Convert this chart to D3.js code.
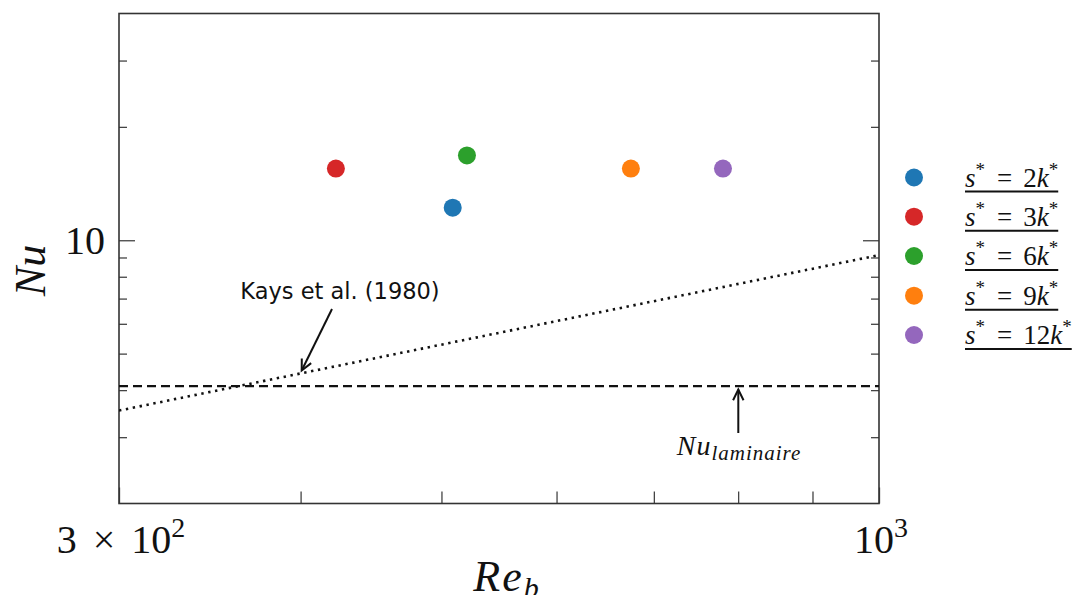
<!DOCTYPE html>
<html><head><meta charset="utf-8">
<script src="https://cdn.jsdelivr.net/npm/d3@7"></script>
<style>body{margin:0;background:#fff}</style>
</head><body>
<svg id="chart" width="1078" height="595"></svg>
<script>
// ---- data ----
const seriesLabels = ["2", "3", "6", "9", "12"];
const seriesColors = ["#1f77b4", "#d62728", "#2ca02c", "#ff7f0e", "#9467bd"];
const reValues = [509, 423, 520.6, 675, 781];
const nuValues = [12.2, 15.5, 16.8, 15.5, 15.5];
const kaysRe = [300, 1000];
const kaysNu = [3.53, 9.13];
const nuLaminaire = 4.1;
const xDomain = [300, 1000];
const yDomain = [2, 40];
const xMajorTicks = [300, 1000];
const xMinorTicks = [400, 500, 600, 700, 800, 900];
const yMajorTicks = [10];
const yMinorTicks = [3, 4, 5, 6, 7, 8, 9, 20, 30];

const svg = d3.select("#chart");
const L = 119, R = 879, T = 13.5, B = 503.5;
const x = d3.scaleLog().domain(xDomain).range([L, R]);
const y = d3.scaleLog().domain(yDomain).range([B, T]);
const serif = "'Liberation Serif','DejaVu Serif',serif";
const sans = "'DejaVu Sans','Liberation Sans',sans-serif";
const axisCol = "#333";

svg.append("defs").append("clipPath").attr("id","clip")
  .append("rect").attr("x",L).attr("y",T).attr("width",R-L).attr("height",B-T);

// ticks (inward) via d3 axes
function tickAxis(gen, tx, ty, vals, size){
  const g = svg.append("g").attr("transform",`translate(${tx},${ty})`)
    .call(gen.tickValues(vals).tickSize(size).tickFormat(""));
  g.select(".domain").remove();
  g.selectAll(".tick line").attr("stroke","#444").attr("stroke-width",1.3);
  return g;
}
tickAxis(d3.axisTop(x), 0, B, xMinorTicks, 12);
tickAxis(d3.axisTop(x), 0, B, xMajorTicks, 16);
tickAxis(d3.axisRight(y), L, 0, yMinorTicks, 8);
tickAxis(d3.axisRight(y), L, 0, yMajorTicks, 16);
tickAxis(d3.axisLeft(y), R, 0, yMinorTicks, 8);
tickAxis(d3.axisLeft(y), R, 0, yMajorTicks, 16);

// frame
svg.append("rect").attr("x",L).attr("y",T).attr("width",R-L).attr("height",B-T)
  .attr("fill","none").attr("stroke",axisCol).attr("stroke-width",1.6);

// tick labels
const lab1 = svg.append("text").attr("x", x(xMajorTicks[0])+2).attr("y",553)
  .attr("text-anchor","middle").attr("font-family",serif).attr("font-size",40).attr("fill","#111");
lab1.append("tspan").text("3");
lab1.append("tspan").attr("dx",16).text("×");
lab1.append("tspan").attr("dx",16).text("10");
lab1.append("tspan").attr("dy",-16).attr("font-size",28).text("2");
const lab2 = svg.append("text").attr("x", x(xMajorTicks[1])+2).attr("y",553)
  .attr("text-anchor","middle").attr("font-family",serif).attr("font-size",40).attr("fill","#111");
lab2.append("tspan").text("10");
lab2.append("tspan").attr("dy",-16).attr("font-size",28).text("3");
svg.append("text").attr("x",L-14).attr("y",y(10)+14).attr("text-anchor","end")
  .attr("font-family",serif).attr("font-size",40).attr("fill","#111").text("10");

// axis labels
svg.append("text").attr("transform",`translate(45,${(T+B)/2+12}) rotate(-90)`)
  .attr("text-anchor","middle").attr("font-family",serif).attr("font-style","italic")
  .attr("font-size",44).attr("fill","#111").text("Nu");
const xl = svg.append("text").attr("x",(L+R)/2+8).attr("y",591).attr("text-anchor","middle")
  .attr("font-family",serif).attr("font-style","italic").attr("font-size",44)
  .attr("letter-spacing",2).attr("fill","#111");
xl.append("tspan").text("Re");
xl.append("tspan").attr("dy",7).attr("font-size",30).text("b");

const plot = svg.append("g").attr("clip-path","url(#clip)");
// laminar line
plot.append("line").attr("x1",x(xDomain[0])).attr("x2",x(xDomain[1]))
  .attr("y1",y(nuLaminaire)).attr("y2",y(nuLaminaire))
  .attr("stroke","#111").attr("stroke-width",2.4).attr("stroke-dasharray","9 5");
// Kays correlation
plot.append("path").datum(kaysRe.map((r,i)=>[r,kaysNu[i]]))
  .attr("d", d3.line().x(d=>x(d[0])).y(d=>y(d[1])))
  .attr("fill","none").attr("stroke","#111").attr("stroke-width",2.6)
  .attr("stroke-dasharray","2.4 4.6");

// points
plot.selectAll("circle.pt").data(reValues).join("circle").attr("class","pt")
  .attr("cx",(d)=>x(d)).attr("cy",(d,i)=>y(nuValues[i])).attr("r",9)
  .attr("fill",(d,i)=>seriesColors[i]);

// annotation arrows
function arrow(x1,y1,x2,y2){
  svg.append("line").attr("x1",x1).attr("y1",y1).attr("x2",x2).attr("y2",y2)
    .attr("stroke","#111").attr("stroke-width",2);
  const a = Math.atan2(y2-y1,x2-x1), h=12, w=0.45;
  svg.append("path").attr("d",`M${x2-h*Math.cos(a-w)},${y2-h*Math.sin(a-w)}L${x2},${y2}L${x2-h*Math.cos(a+w)},${y2-h*Math.sin(a+w)}`)
    .attr("fill","none").attr("stroke","#111").attr("stroke-width",2);
}
arrow(332,309,301.7,370.5);
svg.append("text").attr("x",340).attr("y",299).attr("text-anchor","middle")
  .attr("font-family",sans).attr("font-size",22.5).attr("fill","#111").text("Kays et al. (1980)");
arrow(738.3,433,738.3,389.5);
const nl = svg.append("text").attr("x",739).attr("y",455).attr("text-anchor","middle")
  .attr("font-family",serif).attr("font-style","italic").attr("font-size",28)
  .attr("letter-spacing",1).attr("fill","#111");
nl.append("tspan").text("Nu");
nl.append("tspan").attr("dy",5).attr("font-size",21).text("laminaire");

// legend
const legY = [177.5, 216.7, 256, 295.7, 335];
seriesLabels.forEach((s,i)=>{
  svg.append("circle").attr("cx",914).attr("cy",legY[i]).attr("r",9).attr("fill",seriesColors[i]);
  const t = svg.append("text").attr("x",965).attr("y",legY[i]+9)
    .attr("font-family",serif).attr("font-size",27).attr("fill","#111");
  t.append("tspan").attr("font-style","italic").text("s");
  t.append("tspan").attr("dy",-11).attr("font-size",19).text("*");
  t.append("tspan").attr("dy",11).attr("dx",12).text("=");
  t.append("tspan").attr("dx",11).text(s);
  t.append("tspan").attr("font-style","italic").text("k");
  t.append("tspan").attr("dy",-11).attr("font-size",19).text("*");
  const w = t.node().getComputedTextLength() + 23;
  svg.append("line").attr("x1",965).attr("x2",965+w).attr("y1",legY[i]+14).attr("y2",legY[i]+14)
    .attr("stroke","#111").attr("stroke-width",2);
});
</script>
</body></html>
